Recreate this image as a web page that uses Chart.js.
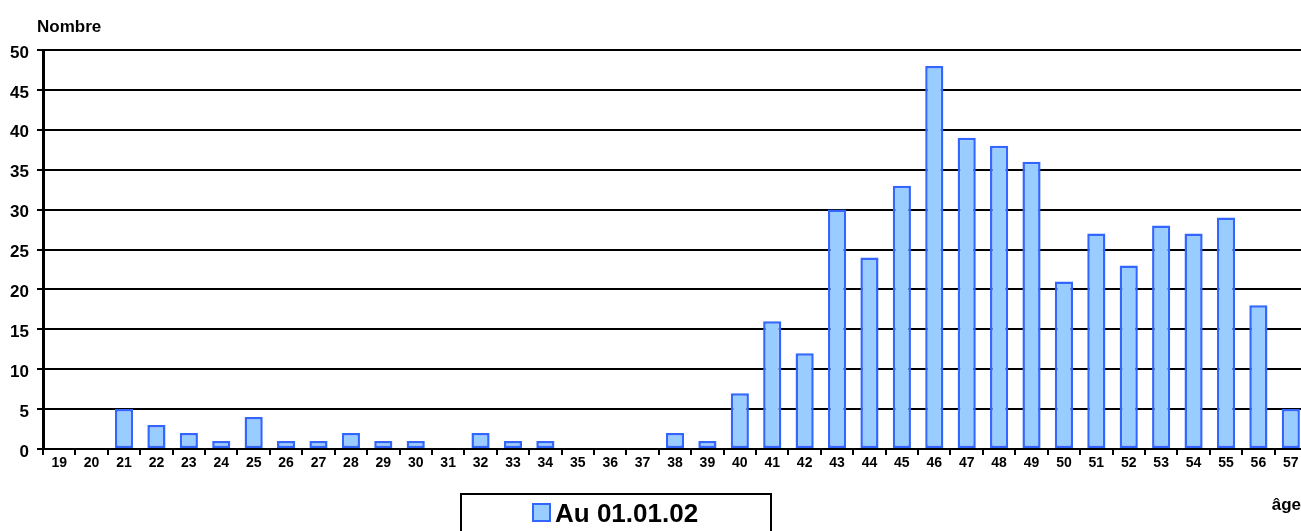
<!DOCTYPE html>
<html>
<head>
<meta charset="utf-8">
<script src="https://cdn.jsdelivr.net/npm/chart.js@4/dist/chart.umd.min.js"></script>
<style>
  html, body { margin: 0; padding: 0; background: #fff; overflow: hidden; }
  #wrap { width: 1307px; height: 531px; }
</style>
</head>
<body>
<div id="wrap"><canvas id="chart" width="1307" height="531"></canvas></div>
<script>
// données
const ages = ['19','20','21','22','23','24','25','26','27','28','29','30','31','32','33','34','35','36','37','38',
              '39','40','41','42','43','44','45','46','47','48','49','50','51','52','53','54','55','56','57'];
const nombre = [0,0,5,3,2,1,4,1,1,2,1,1,0,2,1,1,0,0,0,2,
                1,7,16,12,30,24,33,48,39,38,36,21,27,23,28,27,29,18,5];
const serieLabel = 'Au 01.01.02';
const yTitle = 'Nombre';
const xTitle = 'âge';

const FONT = 'Arial, "Liberation Sans", sans-serif';

// textes hors axes + cadre de légende
const extras = {
    id: 'extras',
    afterDraw(chart) {
        const ctx = chart.ctx;
        ctx.save();
        ctx.fillStyle = '#000';
        ctx.font = 'bold 17px ' + FONT;
        ctx.textAlign = 'left';
        ctx.textBaseline = 'alphabetic';
        ctx.fillText(yTitle, 37, 32);
        ctx.textAlign = 'right';
        ctx.fillText(xTitle, 1301, 510);

        // légende encadrée
        ctx.lineWidth = 2;
        ctx.strokeStyle = '#000';
        ctx.strokeRect(461, 494, 310, 45);
        const ds = chart.data.datasets[0];
        ctx.fillStyle = ds.backgroundColor;
        ctx.fillRect(533, 504, 17, 17);
        ctx.strokeStyle = ds.borderColor;
        ctx.strokeRect(533, 504, 17, 17);
        ctx.fillStyle = '#000';
        ctx.textAlign = 'left';
        ctx.font = 'bold 26px ' + FONT;
        ctx.fillText(ds.label, 555, 522);
        ctx.restore();
    }
};

new Chart(document.getElementById('chart'), {
    type: 'bar',
    data: {
        labels: ages,
        datasets: [{
            label: serieLabel,
            data: nombre,
            backgroundColor: '#99ccff',
            borderColor: '#3366ff',
            borderWidth: 2.5,
            borderSkipped: false,
            barPercentage: 0.56,
            categoryPercentage: 1.0
        }]
    },
    options: {
        responsive: false,
        animation: false,
        layout: { padding: { top: 50, bottom: 52, left: 0, right: 0 } },
        plugins: {
            legend: { display: false },
            tooltip: { enabled: false }
        },
        scales: {
            x: {
                afterFit(scale) { scale.height = 30; },
                grid: {
                    drawOnChartArea: false,
                    drawTicks: true,
                    tickLength: 6,
                    color: '#000',
                    lineWidth: 2,
                    offset: true
                },
                border: { color: '#000', width: 2 },
                ticks: {
                    color: '#000',
                    font: { family: FONT, size: 14, weight: 'bold' },
                    padding: 0,
                    maxRotation: 0,
                    autoSkip: false
                }
            },
            y: {
                min: 0,
                max: 50,
                afterFit(scale) { scale.width = 43; },
                grid: {
                    color: '#000',
                    lineWidth: 2,
                    tickLength: 6
                },
                border: { color: '#000', width: 3 },
                ticks: {
                    stepSize: 5,
                    color: '#000',
                    padding: 8,
                    labelOffset: 3,
                    font: { family: FONT, size: 17, weight: 'bold' }
                }
            }
        }
    },
    plugins: [extras]
});
</script>
</body>
</html>
